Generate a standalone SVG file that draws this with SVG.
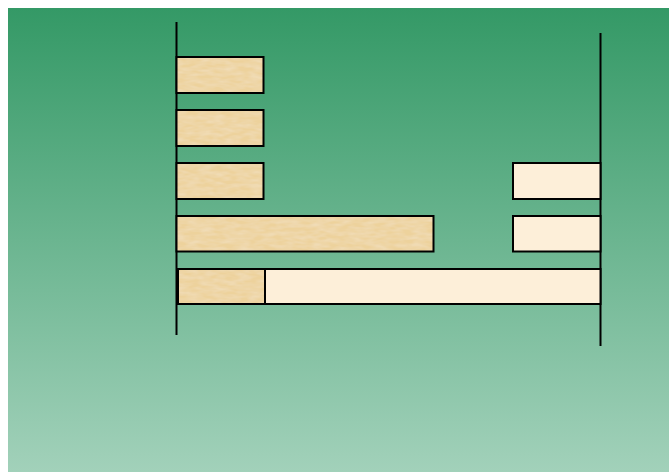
<svg xmlns="http://www.w3.org/2000/svg" width="669" height="472" viewBox="0 0 669 472">
<defs>
<linearGradient id="bg" x1="0" y1="0" x2="0" y2="1">
<stop offset="0" stop-color="#349966"/>
<stop offset="1" stop-color="#a2d1ba"/>
</linearGradient>
<filter id="tex" x="0" y="0" width="1" height="1">
<feTurbulence type="fractalNoise" baseFrequency="0.08 0.25" numOctaves="2" seed="3" result="n"/>
<feColorMatrix in="n" type="matrix" values="0 0 0 0 1  0 0 0 0 1  0 0 0 0 1  0 0 0 0.35 -0.1" result="w"/>
<feComposite in="w" in2="SourceGraphic" operator="in" result="wm"/>
<feMerge><feMergeNode in="SourceGraphic"/><feMergeNode in="wm"/></feMerge>
</filter>
</defs>
<style>
.tan{fill:#edd29c;stroke:none}
.edge{fill:none;stroke:#000;stroke-width:2}
.cream{fill:#fdefd9;stroke:#000;stroke-width:2}
.axis{stroke:#000;stroke-width:2;fill:none}
</style>
<rect x="8" y="8" width="661" height="464" fill="url(#bg)"/>
<g id="connectors">
<line class="axis" x1="176.5" y1="22" x2="176.5" y2="335"/>
<line class="axis" x1="600.5" y1="33" x2="600.5" y2="346"/>
</g>
<g id="bar1"><rect class="tan" filter="url(#tex)" x="176.5" y="57" width="87" height="36"/><rect class="edge" x="176.5" y="57" width="87" height="36"/></g>
<g id="bar2"><rect class="tan" filter="url(#tex)" x="176.5" y="110" width="87" height="36"/><rect class="edge" x="176.5" y="110" width="87" height="36"/></g>
<g id="bar3"><rect class="tan" filter="url(#tex)" x="176.5" y="163" width="87" height="36"/><rect class="edge" x="176.5" y="163" width="87" height="36"/></g>
<g id="bar3r"><rect class="cream" x="513" y="163" width="87.5" height="36"/></g>
<g id="bar4"><rect class="tan" filter="url(#tex)" x="176.5" y="216" width="257" height="35.5"/><rect class="edge" x="176.5" y="216" width="257" height="35.5"/></g>
<g id="bar4r"><rect class="cream" x="513" y="216" width="87.5" height="35.5"/></g>
<g id="bar5">
<rect class="cream" x="265" y="269" width="335.5" height="35"/>
<rect class="tan" filter="url(#tex)" x="178" y="269" width="87" height="35"/>
<rect class="edge" x="178" y="269" width="87" height="35"/>
</g>
</svg>
